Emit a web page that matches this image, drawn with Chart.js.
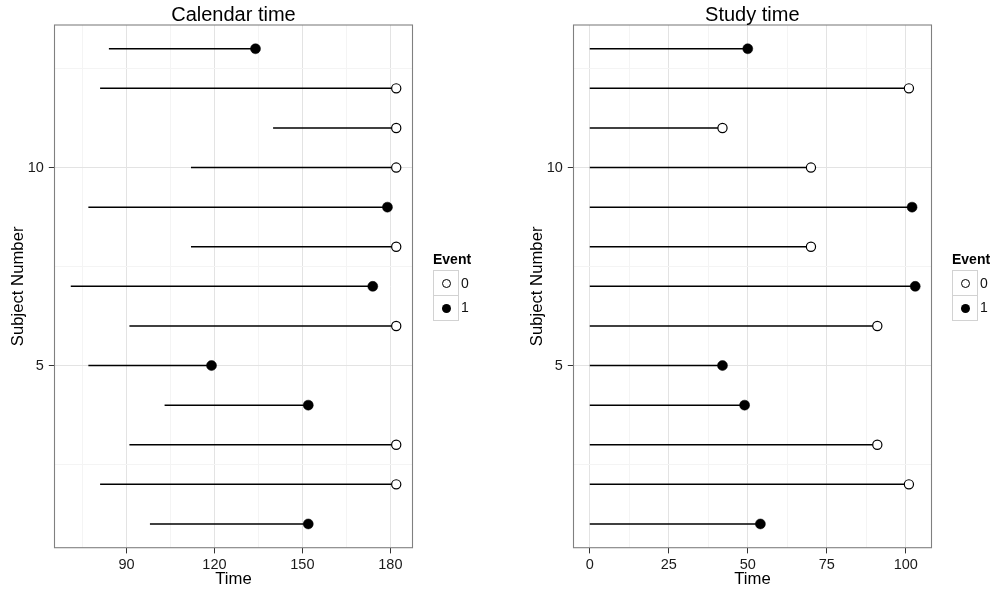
<!DOCTYPE html>
<html>
<head>
<meta charset="utf-8">
<script src="https://cdn.jsdelivr.net/npm/chart.js@4.4.1/dist/chart.umd.min.js"></script>
<style>
  html, body { margin: 0; padding: 0; background: #fff; }
  body { width: 995px; height: 592px; position: relative; overflow: hidden;
         font-family: 'Liberation Sans', Arial, Helvetica, sans-serif; color: #000; }
  .panel { position: absolute; top: 0; }
  .ptitle { position: absolute; top: 3.8px; width: 358px; text-align: center;
            font-size: 20px; line-height: 20px; white-space: nowrap; }
  .ltitle { position: absolute; top: 252.2px; font-size: 14px; line-height: 14px; font-weight: bold;
            will-change: transform; }
  .key { position: absolute; width: 26px; height: 26px; box-sizing: border-box;
         border: 1px solid #d2d2d2; background: #fff; }
  .dot { position: absolute; left: 8px; top: 8px; width: 9px; height: 9px; border-radius: 50%;
         box-sizing: border-box; }
  .dot.open { border: 1.2px solid #000; background: #fff; }
  .dot.filled { background: #000; }
  .klab { position: absolute; font-size: 14px; line-height: 14px; color: #111;
          will-change: transform; }
</style>
</head>
<body>

<div class="panel" style="left:0px;"><canvas id="cal" width="420" height="592"></canvas></div>
<div class="panel" style="left:519px;"><canvas id="study" width="421" height="592"></canvas></div>

<div class="ptitle" style="left:54.5px;">Calendar time</div>
<div class="ptitle" style="left:573.3px;">Study time</div>

<!-- legends -->
<div class="ltitle" style="left:433px;">Event</div>
<div class="key" style="left:432.5px; top:269.5px;"><div class="dot open"></div></div>
<div class="key" style="left:432.5px; top:294.5px;"><div class="dot filled"></div></div>
<div class="klab" style="left:461px; top:276.3px;">0</div>
<div class="klab" style="left:461px; top:300.3px;">1</div>

<div class="ltitle" style="left:952px;">Event</div>
<div class="key" style="left:951.5px; top:269.5px;"><div class="dot open"></div></div>
<div class="key" style="left:951.5px; top:294.5px;"><div class="dot filled"></div></div>
<div class="klab" style="left:980px; top:276.3px;">0</div>
<div class="klab" style="left:980px; top:300.3px;">1</div>

<script>
// Follow-up per subject: entry and exit on the calendar, event indicator,
// and time on study.
const subjects  = [1, 2, 3, 4, 5, 6, 7, 8, 9, 10, 11, 12, 13];
const calStart  = [98, 81, 91, 103, 77, 91, 71, 112, 77, 112, 140, 81, 84];
const calEnd    = [152, 182, 182, 152, 119, 182, 174, 182, 179, 182, 182, 182, 134];
const event     = [1, 0, 0, 1, 1, 0, 1, 0, 1, 0, 0, 0, 1];
const studyTime = [54, 101, 91, 49, 42, 91, 103, 70, 102, 70, 42, 101, 50];

const yMajor = [5, 10];
const yMinor = [2.5, 7.5, 12.5];
const calMajor = [90, 120, 150, 180];
const calMinor = [75, 105, 135, 165];
const studyMajor = [0, 25, 50, 75, 100];
const studyMinor = [12.5, 37.5, 62.5, 87.5];

Chart.defaults.font.family = "'Liberation Sans', Arial, Helvetica, sans-serif";
Chart.defaults.color = '#1a1a1a';

const CANVAS_H = 592;
const PLOT_TOP = 25;
const PLOT_BOTTOM = 547.7;
const PLOT_LEFT = 54.5;

// Full panel border around the plotting region
const panelBorder = {
  id: 'panelBorder',
  afterDraw(chart) {
    const { ctx, chartArea: a } = chart;
    ctx.save();
    ctx.strokeStyle = '#808080';
    ctx.lineWidth = 1.1;
    ctx.strokeRect(a.left, a.top, a.right - a.left, a.bottom - a.top);
    ctx.restore();
  }
};

function makeTicks(major, minor) {
  return major.concat(minor).sort((a, b) => a - b).map(v => ({ value: v }));
}

function axisGrid(major) {
  return {
    color: c => (c.tick && major.includes(c.tick.value)) ? '#e3e3e3' : '#f4f4f4',
    tickColor: c => (c.tick && major.includes(c.tick.value)) ? '#333333' : 'rgba(0,0,0,0)',
    lineWidth: 1,
    tickLength: 5.7,
    drawTicks: true
  };
}

function buildChart(id, starts, ends, xMin, xMax, xMajor, xMinor) {
  const datasets = [];
  // observed follow-up segments
  subjects.forEach((s, i) => {
    datasets.push({
      type: 'line',
      data: [{ x: starts[i], y: s }, { x: ends[i], y: s }],
      borderColor: '#000',
      borderWidth: 1.5,
      pointRadius: 0,
      order: 2
    });
  });
  // end-of-follow-up markers: censored (open) and event (filled)
  const censored = [], events = [];
  subjects.forEach((s, i) => {
    (event[i] === 1 ? events : censored).push({ x: ends[i], y: s });
  });
  datasets.push({
    type: 'scatter', data: censored,
    pointRadius: 4.6, pointBackgroundColor: '#fff',
    pointBorderColor: '#000', pointBorderWidth: 1.2, order: 0
  });
  datasets.push({
    type: 'scatter', data: events,
    pointRadius: 5, pointBackgroundColor: '#000',
    pointBorderColor: '#000', pointBorderWidth: 0.5, order: 0
  });

  const canvas = document.getElementById(id);
  return new Chart(canvas, {
    type: 'scatter',
    data: { datasets },
    plugins: [panelBorder],
    options: {
      responsive: false,
      animation: false,
      events: [],
      layout: { padding: { left: 0, top: PLOT_TOP, bottom: 0, right: canvas.width - (PLOT_LEFT + 358) } },
      plugins: { legend: { display: false }, tooltip: { enabled: false }, title: { display: false } },
      scales: {
        x: {
          type: 'linear', min: xMin, max: xMax,
          afterBuildTicks: sc => { sc.ticks = makeTicks(xMajor, xMinor); },
          afterFit: sc => { sc.height = CANVAS_H - PLOT_BOTTOM; },
          ticks: {
            autoSkip: false, maxRotation: 0, padding: 2.5,
            font: { size: 14.5 }, color: '#1a1a1a',
            callback: v => xMajor.includes(v) ? String(v) : ''
          },
          grid: axisGrid(xMajor),
          border: { display: false },
          title: { display: true, text: 'Time', color: '#000',
                   font: { size: 16.7 }, padding: { top: 0, bottom: 2.5 } }
        },
        y: {
          type: 'linear', min: 0.4, max: 13.6,
          afterBuildTicks: sc => { sc.ticks = makeTicks(yMajor, yMinor); },
          afterFit: sc => { sc.width = PLOT_LEFT; },
          ticks: {
            autoSkip: false, padding: 5,
            font: { size: 14.5 }, color: '#1a1a1a',
            callback: v => yMajor.includes(v) ? String(v) : ''
          },
          grid: axisGrid(yMajor),
          border: { display: false },
          title: { display: true, text: 'Subject Number', color: '#000',
                   font: { size: 16.7 }, padding: { top: 8, bottom: 0 } }
        }
      }
    }
  });
}

buildChart('cal', calStart, calEnd, 65.45, 187.55, calMajor, calMinor);
buildChart('study', subjects.map(() => 0), studyTime, -5.15, 108.15, studyMajor, studyMinor);
</script>
</body>
</html>
